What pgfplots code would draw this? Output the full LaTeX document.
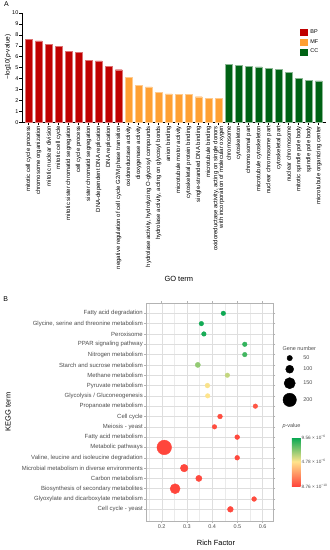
\documentclass[border=0pt]{standalone}
\usepackage{pgfplots}
\pgfplotsset{compat=1.18}
\usepackage{pgfplotstable}
\usepackage{fontspec}
\setmainfont{Liberation Sans}
\definecolor{bpred}{RGB}{192,0,0}
\definecolor{mforange}{RGB}{255,160,51}
\definecolor{ccgreen}{RGB}{0,98,20}
\definecolor{grey70}{RGB}{179,179,179}
\definecolor{grey87}{RGB}{222,222,222}
\definecolor{grey92}{RGB}{235,235,235}
\definecolor{grey30}{RGB}{77,77,77}
\newcommand{\fs}[1]{\fontsize{#1}{#1}\selectfont}

\pgfplotstableread{
y x r p
1 0.444 2.3 9.3
2 0.357 2.3 9.2
3 0.367 2.3 9.1
4 0.529 2.3 8.6
5 0.529 2.3 8.3
6 0.343 2.6 6.8
7 0.460 2.3 5.9
8 0.381 2.4 4.9
9 0.382 2.3 4.8
10 0.571 2.3 0.5
11 0.431 2.4 0.2
12 0.409 2.3 0.2
13 0.499 2.4 0.1
14 0.210 7.3 0.001
15 0.499 2.4 0.1
16 0.289 3.8 0.05
17 0.347 3.1 0.1
18 0.253 5.0 0.01
19 0.566 2.4 0.2
20 0.472 2.9 0.1
}\keggdata

\begin{document}
\begin{tikzpicture}
\useasboundingbox (0bp,0bp) rectangle (330bp,-550bp);
\node[font=\fs{7}] at (6.5bp,-4.5bp) {A};
\node[font=\fs{7}] at (5.7bp,-298.7bp) {B};

\begin{axis}[
  at={(22bp,-122.3bp)}, anchor=south west,
  scale only axis, width=304bp, height=109.3bp,
  xmin=-0.67, xmax=29.73, ymin=0, ymax=10,
  axis x line*=bottom, axis y line*=left,
  axis line style={-, line width=0.6bp},
  tick align=outside, major tick length=2.5bp,
  tick style={line width=0.5bp, black},
  ytick={0,...,10},
  xtick={0,...,29},
  xticklabels={mitotic cell cycle process, chromosome organization, mitotic nuclear division, mitotic cell cycle, mitotic sister chromatid segregation, cell cycle process, sister chromatid segregation, DNA-dependent DNA replication, DNA replication, negative regulation of cell cycle G2/M phase transition, oxidoreductase activity, dioxygenase activity, {hydrolase activity, hydrolyzing O-glycosyl compounds}, {hydrolase activity, acting on glycosyl bonds}, anion binding, microtubule motor activity, cytoskeletal protein binding, single-stranded DNA binding, microtubule binding, {oxidoreductase activity, acting on single donors\\with incorporation of molecular oxygen}, chromosome, cytoskeleton, chromosomal part, microtubule cytoskeleton, nuclear chromosome part, cytoskeletal part, nuclear chromosome, mitotic spindle pole body, spindle pole body, microtubule organizing center},
  xticklabel style={rotate=90, anchor=east, font=\fs{6}, align=right, inner sep=1bp},
  yticklabel style={font=\fs{5.5}, inner sep=1bp},
  /pgf/number format/assume math mode=true,
  ylabel={−log10(\textit{p}-value)},
  ylabel style={at={(axis description cs:-0.046,0.597)}, anchor=center, font=\fs{6.5}},
  xlabel={GO term},
  xlabel style={at={(axis description cs:0.516,-1.434)}, anchor=center, font=\fs{7.5}},
  legend style={at={(axis description cs:0.9145,0.8536)}, anchor=north west, draw=none, fill=none, font=\fs{5.5}, inner sep=0pt, row sep=3.3bp, column sep=3.5bp, nodes={inner sep=0pt}},
  legend cell align=left,
]
\addplot[ybar, bar width=6.7bp, bar shift=0pt, fill=bpred, draw=bpred!55!white, line width=0.4bp,
  legend image code/.code={\fill[bpred] (0bp,-3bp) rectangle (6.3bp,3bp);}]
  coordinates {(0,7.62) (1,7.44) (2,7.16) (3,6.98) (4,6.52) (5,6.40) (6,5.70) (7,5.61) (8,5.12) (9,4.81)};
\addlegendentry{BP}
\addplot[ybar, bar width=6.7bp, bar shift=0pt, fill=mforange, draw=mforange!55!white, line width=0.4bp,
  legend image code/.code={\fill[mforange] (0bp,-3bp) rectangle (6.3bp,3bp);}]
  coordinates {(10,4.14) (11,3.41) (12,3.23) (13,2.74) (14,2.59) (15,2.56) (16,2.55) (17,2.34) (18,2.22) (19,2.22)};
\addlegendentry{MF}
\addplot[ybar, bar width=6.7bp, bar shift=0pt, fill=ccgreen, draw=ccgreen!45!white, line width=0.4bp,
  legend image code/.code={\fill[ccgreen] (0bp,-3bp) rectangle (6.3bp,3bp);}]
  coordinates {(20,5.30) (21,5.21) (22,5.12) (23,5.06) (24,4.94) (25,4.85) (26,4.57) (27,4.03) (28,3.87) (29,3.78)};
\addlegendentry{CC}
\end{axis}

\begin{axis}[
  at={(146bp,-521bp)}, anchor=south west,
  scale only axis, width=127.3bp, height=218bp,
  xmin=0.1377, xmax=0.642, ymin=0, ymax=21.13, y dir=reverse,
  xtick={0.2,0.3,0.4,0.5,0.6},
  xticklabels={0.2,0.3,0.4,0.5,0.6},
  minor xtick={0.15,0.25,0.35,0.45,0.55},
  ytick={1,...,20},
  yticklabels={Fatty acid degradation, {Glycine, serine and threonine metabolism}, Peroxisome, PPAR signaling pathway, Nitrogen metabolism, Starch and sucrose metabolism, Methane metabolism, Pyruvate metabolism, Glycolysis / Gluconeogenesis, Propanoate metabolism, Cell cycle, Meiosis - yeast, Fatty acid metabolism, Metabolic pathways, {Valine, leucine and isoleucine degradation}, Microbial metabolism in diverse environments, Carbon metabolism, Biosynthesis of secondary metabolites, Glyoxylate and dicarboxylate metabolism, Cell cycle - yeast},
  xmajorgrids, xminorgrids, ymajorgrids,
  major grid style={grey87, line width=0.45bp},
  minor grid style={grey92, line width=0.3bp},
  axis line style={grey70, line width=0.7bp},
  tick align=outside, major tick length=2bp, minor tick length=0pt,
  tick style={grey70, line width=0.5bp},
  yticklabel style={font=\fs{6}, text=grey30, inner sep=1bp},
  xticklabel style={font=\fs{5.5}, text=grey30, inner sep=1.5bp},
  ylabel={KEGG term},
  ylabel style={at={(axis description cs:-1.084,0.5)}, anchor=center, font=\fs{7.5}},
  xlabel={Rich Factor},
  xlabel style={at={(axis description cs:0.55,-0.102)}, anchor=center, font=\fs{7.5}},
  colormap={pval}{rgb255=(255,70,60) rgb255=(255,228,140) rgb255=(0,166,81)},
  point meta min=0.000876, point meta max=9.56,
  colorbar,
  colorbar style={
    at={(283.3bp,-437bp)}, anchor=north west,
    width=8.7bp, height=49bp, scale only axis,
    ytick={0.000876,4.78,9.56},
    yticklabels={8.76 × 10\textsuperscript{−10}, 4.78 × 10\textsuperscript{−6}, 9.56 × 10\textsuperscript{−6}},
    yticklabel style={font=\fs{4.7}, text=grey30, inner sep=1bp},
    major tick length=0pt,
    axis line style={draw=none},
  },
  legend style={at={(axis description cs:1.0731,0.7615)}, anchor=north west, draw=none, fill=none, font=\fs{5.5}, text=grey30, inner sep=0pt, row sep=4bp, column sep=6.7bp, nodes={inner sep=0pt}},
  legend cell align=left,
]
\addplot[scatter, only marks, mark=*, scatter src=explicit, forget plot,
  scatter/use mapped color={draw=mapped color, fill=mapped color},
  visualization depends on={\thisrow{r} \as \pradius},
  scatter/@pre marker code/.append style={/tikz/mark size=\pradius bp}]
  table[x=x, y=y, meta=p] \keggdata;
\addlegendimage{legend image code/.code={\fill[black] (0bp,0bp) circle (2.7bp);}}
\addlegendentry{50}
\addlegendimage{legend image code/.code={\fill[black] (0bp,0bp) circle (4bp);}}
\addlegendentry{100}
\addlegendimage{legend image code/.code={\fill[black] (0bp,0bp) circle (5.6bp);}}
\addlegendentry{150}
\addlegendimage{legend image code/.code={\fill[black] (0bp,0bp) circle (6.7bp);}}
\addlegendentry{200}
\end{axis}
\node[anchor=west, font=\fs{5.5}, text=grey30, inner sep=0pt] at (282.3bp,-349bp) {Gene number};
\node[anchor=west, font=\fs{5.5}, text=grey30, inner sep=0pt] at (282.3bp,-425.7bp) {\textit{p}-value};
\end{tikzpicture}
\end{document}
